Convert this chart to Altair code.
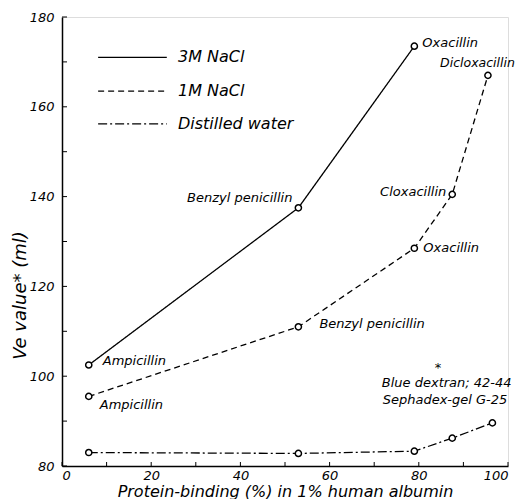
import altair as alt
import pandas as pd

# ---- data ----
series_names = ["3M NaCl", "1M NaCl", "Distilled water"]

binding_3m = [6, 53, 79]
ve_3m = [102.5, 137.5, 173.5]
drugs_3m = ["Ampicillin", "Benzyl penicillin", "Oxacillin"]

binding_1m = [6, 53, 79, 87.5, 95.5]
ve_1m = [95.5, 111, 128.5, 140.5, 167]
drugs_1m = ["Ampicillin", "Benzyl penicillin", "Oxacillin", "Cloxacillin", "Dicloxacillin"]

binding_w = [6, 53, 79, 87.5, 96.5]
ve_w = [83, 82.8, 83.3, 86.2, 89.6]

x_tick_values = [0, 10, 20, 30, 40, 50, 60, 70, 80, 90, 100]
x_label_values = [0, 20, 40, 60, 80, 100]
y_tick_values = [80, 90, 100, 110, 120, 130, 140, 150, 160, 170, 180]
y_label_values = [80, 100, 120, 140, 160, 180]

note_lines = ["Blue dextran; 42-44", "Sephadex-gel G-25"]

# legend sample positions (data units)
legend_x1, legend_x2, legend_tx = 8.1, 23.5, 26.0
legend_y = [171.0, 163.5, 156.2]

FONT = "DejaVu Sans"
dash_range = [[1, 0], [6, 4], [9, 3, 2, 3]]

rows = []
for s, xs_, ys_ in zip(series_names, [binding_3m, binding_1m, binding_w], [ve_3m, ve_1m, ve_w]):
    for i, (a, b) in enumerate(zip(xs_, ys_)):
        rows.append({"series": s, "x": a, "y": b, "order": i})
df = pd.DataFrame(rows)

xs = alt.Scale(domain=[0, 100], nice=False, zero=False)
ys = alt.Scale(domain=[80, 180], nice=False, zero=False)
dash = alt.Scale(domain=series_names, range=dash_range)

x_axis = alt.Axis(values=x_label_values, ticks=False, grid=False, domainColor="black",
                  domainWidth=1.5, labelFont=FONT, labelFontSize=13, labelFontStyle="italic",
                  labelColor="black", labelPadding=3, title="Protein-binding (%) in 1% human albumin",
                  titleFont=FONT, titleFontSize=16, titleFontStyle="italic", titleFontWeight="normal",
                  titleColor="black", titleX=223, titleY=25, titleBaseline="middle")
y_axis = alt.Axis(values=y_label_values, ticks=False, grid=False, domainColor="black",
                  domainWidth=1.5, labelFont=FONT, labelFontSize=13, labelFontStyle="italic",
                  labelColor="black", labelPadding=8, title="Ve value* (ml)",
                  titleFont=FONT, titleFontSize=18, titleFontStyle="italic", titleFontWeight="normal",
                  titleColor="black", titleX=-42, titleY=278, titleAngle=270,
                  titleAlign="center", titleBaseline="middle")

base = alt.Chart(df)
lines = base.mark_line(color="black", strokeWidth=1.3).encode(
    x=alt.X("x:Q", scale=xs, axis=x_axis),
    y=alt.Y("y:Q", scale=ys, axis=y_axis),
    strokeDash=alt.StrokeDash("series:N", scale=dash, legend=None),
    detail="series:N",
    order="order:Q",
)
points = base.mark_point(shape="circle", filled=False, size=38, strokeWidth=1.5,
                         color="black", fill="white", opacity=1).encode(
    x=alt.X("x:Q", scale=xs), y=alt.Y("y:Q", scale=ys))

# point labels
label_style = {
    ("3M NaCl", "Ampicillin"): (14, -4, "left", 13),
    ("3M NaCl", "Benzyl penicillin"): (-6, -10, "right", 13),
    ("3M NaCl", "Oxacillin"): (8, -3, "left", 13),
    ("1M NaCl", "Ampicillin"): (11, 9, "left", 13),
    ("1M NaCl", "Benzyl penicillin"): (21, -3, "left", 13),
    ("1M NaCl", "Oxacillin"): (9, 0, "left", 13),
    ("1M NaCl", "Cloxacillin"): (-6, -2, "right", 13),
    ("1M NaCl", "Dicloxacillin"): (27, -12, "right", 12.5),
}
label_layers = []
for s, xv, yv, names in [("3M NaCl", binding_3m, ve_3m, drugs_3m),
                         ("1M NaCl", binding_1m, ve_1m, drugs_1m)]:
    for a, b, n in zip(xv, yv, names):
        dx, dy, al, fs = label_style[(s, n)]
        ldf = pd.DataFrame({"x": [a], "y": [b], "t": [n]})
        label_layers.append(alt.Chart(ldf).mark_text(
            font=FONT, fontSize=fs, fontStyle="italic", color="black",
            align=al, baseline="middle", dx=dx, dy=dy).encode(
            x=alt.X("x:Q", scale=xs), y=alt.Y("y:Q", scale=ys), text="t:N"))

# note
note_df = pd.DataFrame({"x": [71.7, 71.9], "y": [98.5, 94.7], "t": note_lines})
note = alt.Chart(note_df).mark_text(font=FONT, fontSize=13, fontStyle="italic", color="black",
                                    align="left", baseline="middle").encode(
    x=alt.X("x:Q", scale=xs), y=alt.Y("y:Q", scale=ys), text="t:N")
star_df = pd.DataFrame({"x": [84.3], "y": [101.8], "t": ["*"]})
star = alt.Chart(star_df).mark_text(font=FONT, fontSize=13, color="black",
                                    align="center", baseline="middle").encode(
    x=alt.X("x:Q", scale=xs), y=alt.Y("y:Q", scale=ys), text="t:N")

# legend drawn inside the plot
leg_df = pd.DataFrame({"series": series_names, "x1": [legend_x1] * 3, "x2": [legend_x2] * 3,
                       "tx": [legend_tx] * 3, "y": legend_y})
leg_lines = alt.Chart(leg_df).mark_rule(color="black", strokeWidth=1.3).encode(
    x=alt.X("x1:Q", scale=xs), x2="x2:Q", y=alt.Y("y:Q", scale=ys),
    strokeDash=alt.StrokeDash("series:N", scale=dash, legend=None))
leg_text = alt.Chart(leg_df).mark_text(font=FONT, fontSize=16, fontStyle="italic", color="black",
                                       align="left", baseline="middle").encode(
    x=alt.X("tx:Q", scale=xs), y=alt.Y("y:Q", scale=ys), text="series:N")

# inward ticks
xt_df = pd.DataFrame({"v": x_tick_values})
yt_df = pd.DataFrame({"v": y_tick_values})
x_ticks = alt.Chart(xt_df).mark_rule(color="black", strokeWidth=1).encode(
    x=alt.X("v:Q", scale=xs), y=alt.value(449), y2=alt.value(445))
y_ticks = alt.Chart(yt_df).mark_rule(color="black", strokeWidth=1).encode(
    y=alt.Y("v:Q", scale=ys), x=alt.value(0), x2=alt.value(5))

chart = alt.layer(lines, points, *label_layers, note, star, leg_lines, leg_text, x_ticks, y_ticks).properties(
    width=446, height=449,
    autosize=alt.AutoSizeParams(type="none"),
    padding={"left": 54, "top": 9, "right": 8, "bottom": 33},
).configure_view(stroke=None).configure(background="white")

chart.save("out.html", embed_options={"renderer": "svg", "actions": False})
